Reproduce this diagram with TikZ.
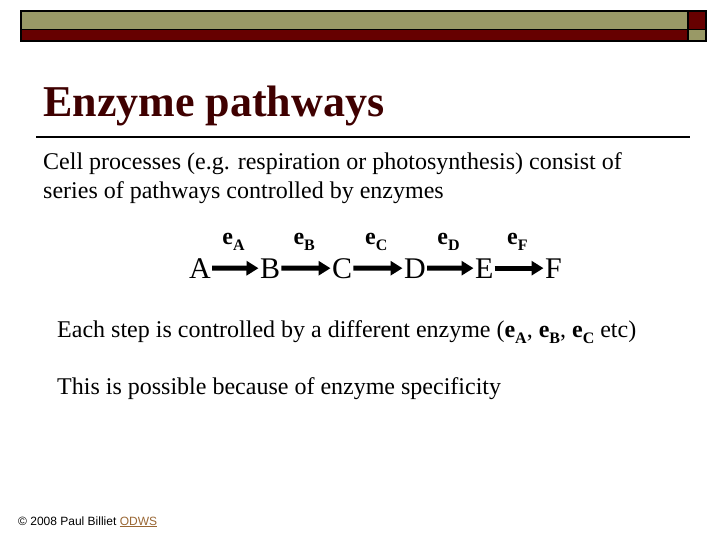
\documentclass[tikz,border=0pt]{standalone}
\usepackage{fontspec}
\setmainfont{Liberation Serif}
\newfontfamily\arialf{Liberation Sans}
\usetikzlibrary{arrows.meta}
\definecolor{olivebar}{HTML}{999966}
\definecolor{maroonbar}{HTML}{660000}
\definecolor{titlecol}{HTML}{3F0000}
\definecolor{linkcol}{HTML}{996633}
\newcommand{\enzlab}[1]{e\raisebox{-0.25em}{\fontsize{16}{16}\selectfont\bfseries #1}}
\newcommand{\enzbody}[1]{\textbf{e}\raisebox{-0.25em}{\fontsize{16}{16}\selectfont\bfseries #1}}
\begin{document}
\begin{tikzpicture}[x=1pt,y=-1pt,
  txt/.style={anchor=base west, inner sep=0pt, font=\fontsize{24}{29}\selectfont},
  mol/.style={anchor=base west, inner sep=0pt, font=\fontsize{30}{36}\selectfont},
  enz/.style={anchor=base, inner sep=0pt, font=\fontsize{24}{28}\selectfont\bfseries, yshift=24pt, xshift=-2pt},
  rxn/.style={line width=5pt, -{Triangle[length=12pt,width=14pt]}, shorten <=1pt, shorten >=1.5pt}]
\useasboundingbox (0,0) rectangle (720,540);
\fill[white] (0,0) rectangle (720,540);
% top bar
\fill[olivebar] (21,11) rectangle (688,29.5);
\fill[maroonbar] (688,11) rectangle (706,29.5);
\fill[maroonbar] (21,29.5) rectangle (688,41);
\fill[olivebar] (688,29.5) rectangle (706,41);
\draw[line width=2pt] (21,11) rectangle (706,41);
\draw[line width=1.5pt] (21,29.5) -- (706,29.5);
\draw[line width=1.5pt] (688,11) -- (688,41);
% title
\node[anchor=base west, inner sep=0pt, text=titlecol, font=\fontsize{44}{52}\selectfont\bfseries] (title) at (43,117) {Enzyme pathways};
\draw[line width=2pt] (36,137) -- (690,137);
% body text
\node[txt] (l1) at (43,170) {Cell processes (e.g. respiration or photosynthesis) consist of};
\node[txt] (l2) at (43,198.5) {series of pathways controlled by enzymes};
% pathway
\node[mol] (A) at (189,278) {A};
\node[mol] (B) at (260,278) {B};
\node[mol] (C) at (332,278) {C};
\node[mol] (D) at (404,278) {D};
\node[mol] (E) at (475,278) {E};
\node[mol] (F) at (545,278) {F};
\draw[rxn] (A.east) -- node[enz] (eA) {\enzlab{A}} (B.west);
\draw[rxn] (B.east) -- node[enz] (eB) {\enzlab{B}} (C.west);
\draw[rxn] (C.east) -- node[enz] (eC) {\enzlab{C}} (D.west);
\draw[rxn] (D.east) -- node[enz] (eD) {\enzlab{D}} (E.west);
\draw[rxn] (E.east) -- node[enz] (eF) {\enzlab{F}} (F.west);
% lower text
\node[txt] (l3) at (57,337) {Each step is controlled by a different enzyme (\enzbody{A}, \enzbody{B}, \enzbody{C} etc)};
\node[txt] (l4) at (57,394) {This is possible because of enzyme specificity};
% footer
\node[anchor=base west, inner sep=0pt, font=\arialf\fontsize{12}{14}\selectfont] (foot) at (18,525) {© 2008 Paul Billiet \textcolor{linkcol}{\underline{ODWS}}};
\end{tikzpicture}
\end{document}
